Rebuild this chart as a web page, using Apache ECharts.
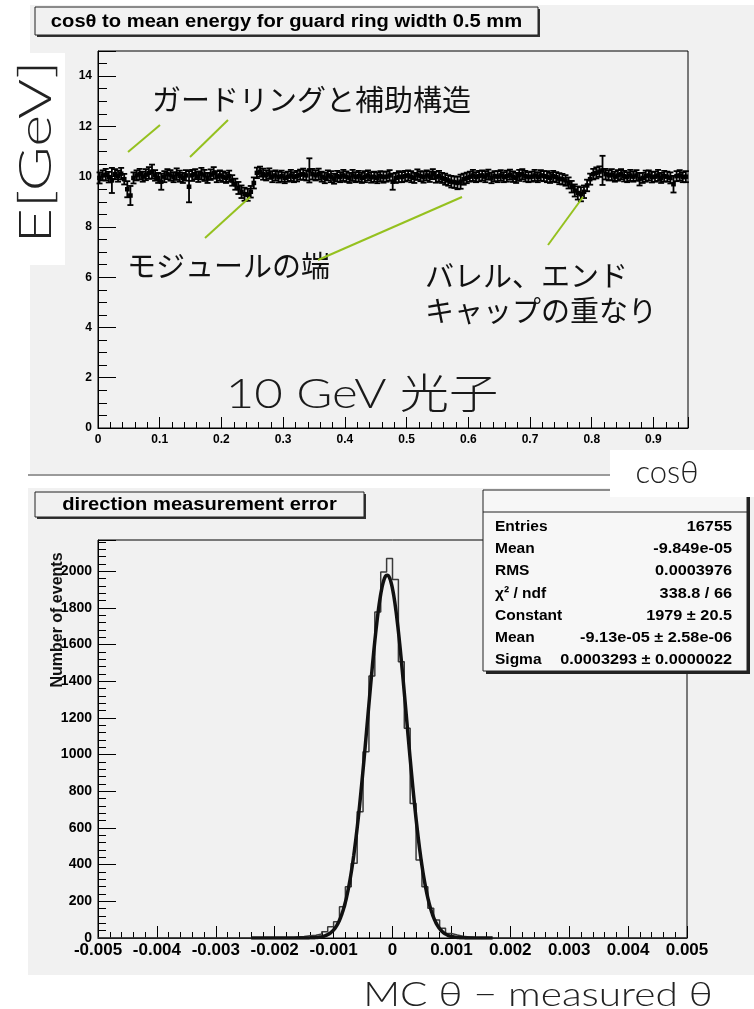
<!DOCTYPE html>
<html>
<head>
<meta charset="utf-8">
<script src="https://cdn.jsdelivr.net/npm/echarts@6/dist/echarts.min.js"></script>
<style>
  html, body { margin: 0; padding: 0; background: #fff; }
  #c { width: 754px; height: 1009px; }
</style>
</head>
<body>
<div id="c"></div>
<script>
// ---------- upper panel: mean energy per cos(theta) bin ----------
const cosBinWidth = 0.005;
const cosRange = [0, 0.956];
const cosTickLabels = ['0', '0.1', '0.2', '0.3', '0.4', '0.5', '0.6', '0.7', '0.8', '0.9'];
const energyTickLabels = ['0', '2', '4', '6', '8', '10', '12', '14'];
const energyRange = [0, 15];

const meanEnergy = [
  9.95,10.05,10.08,9.98,9.85,10.10,10.02,10.12,9.90,9.50,
  9.25,9.95,10.05,10.10,10.00,10.08,10.15,10.20,10.05,9.95,
  9.80,10.00,10.10,10.05,9.98,10.10,10.02,9.95,10.05,9.60,
  10.05,10.10,10.00,10.12,10.05,9.95,10.08,10.15,10.00,10.05,
  10.00,9.95,10.02,9.85,9.70,9.55,9.40,9.30,9.28,9.40,
  9.75,10.15,10.20,10.10,10.05,10.12,10.00,10.05,9.98,10.02,
  9.95,10.00,10.05,9.98,10.02,10.08,10.10,10.05,10.25,10.10,
  10.05,10.10,10.00,9.95,10.05,10.00,9.92,10.02,9.98,10.05,
  10.00,9.95,10.05,9.98,10.02,9.95,10.00,10.05,9.97,10.00,
  9.95,10.02,9.98,10.00,10.05,9.80,9.95,10.00,9.98,10.02,
  10.05,10.00,9.95,10.08,10.02,9.98,10.05,10.00,10.10,9.98,
  10.02,9.95,9.90,9.85,9.80,9.78,9.75,9.80,9.90,9.95,
  10.00,10.05,9.98,10.02,10.05,10.00,10.08,9.95,10.02,10.00,
  10.05,9.98,10.02,10.08,10.00,9.95,10.05,10.10,10.02,9.98,
  10.00,10.05,9.98,10.05,10.02,10.00,9.95,10.02,9.98,9.92,
  9.90,9.85,9.75,9.60,9.45,9.35,9.30,9.40,9.65,9.90,
  10.10,10.15,10.20,10.25,10.10,10.05,10.08,10.00,10.05,10.10,
  10.02,9.98,10.05,10.00,10.05,9.90,9.95,10.02,10.05,9.98,
  10.00,10.05,9.95,10.02,10.00,9.95,9.70,10.02,10.05,9.98,10.00
];
const energyErr = [
  0.22,0.20,0.23,0.21,0.50,0.20,0.22,0.23,0.21,0.32,
  0.38,0.22,0.20,0.21,0.20,0.22,0.23,0.28,0.21,0.20,
  0.32,0.22,0.20,0.21,0.20,0.23,0.22,0.20,0.21,0.62,
  0.22,0.20,0.21,0.23,0.22,0.20,0.21,0.23,0.22,0.20,
  0.21,0.20,0.22,0.21,0.22,0.24,0.25,0.26,0.24,0.23,
  0.22,0.21,0.20,0.22,0.20,0.21,0.22,0.20,0.21,0.22,
  0.21,0.20,0.22,0.20,0.21,0.20,0.22,0.20,0.48,0.21,
  0.20,0.22,0.20,0.21,0.20,0.22,0.20,0.21,0.20,0.22,
  0.21,0.20,0.22,0.20,0.21,0.20,0.22,0.20,0.21,0.20,
  0.21,0.20,0.22,0.20,0.21,0.32,0.20,0.22,0.20,0.21,
  0.20,0.22,0.20,0.21,0.20,0.22,0.20,0.21,0.20,0.22,
  0.21,0.20,0.22,0.21,0.23,0.23,0.25,0.28,0.22,0.21,
  0.20,0.22,0.20,0.21,0.20,0.22,0.20,0.21,0.20,0.22,
  0.21,0.20,0.22,0.20,0.21,0.20,0.22,0.20,0.21,0.20,
  0.20,0.22,0.20,0.21,0.20,0.22,0.20,0.21,0.20,0.22,
  0.21,0.21,0.22,0.23,0.24,0.26,0.28,0.25,0.23,0.22,
  0.21,0.22,0.21,0.58,0.21,0.20,0.22,0.20,0.21,0.20,
  0.21,0.20,0.22,0.20,0.21,0.25,0.20,0.22,0.20,0.21,
  0.20,0.22,0.20,0.21,0.20,0.22,0.33,0.20,0.21,0.20,0.22
];

// ---------- lower panel: direction measurement error histogram ----------
const dirRange = [-0.005, 0.005];
const dirBinWidth = 0.0001;
const dirTickLabels = ['-0.005', '-0.004', '-0.003', '-0.002', '-0.001', '0', '0.001', '0.002', '0.003', '0.004', '0.005'];
const countTickLabels = ['0', '200', '400', '600', '800', '1000', '1200', '1400', '1600', '1800', '2000'];
const countMax = 2170;
const histFirstEdge = -0.0017;   // left edge of the first filled bin
const histCounts = [
  5, 8, 12, 15, 22, 34, 62, 89, 171, 280,
  407, 688, 1015, 1428, 1778, 1996, 2069, 1955, 1506, 1143,
  734, 425, 280, 162, 98, 53, 25, 16, 9, 6,
  3, 2
];

// Gaussian fit result shown in the stats box
const fitConstant = 1979;
const fitMean = -9.13e-05;
const fitSigma = 0.0003293;
const fitRange = [-0.0024, 0.0017];

const statNames = ['Entries', 'Mean', 'RMS', 'χ² / ndf', 'Constant', 'Mean', 'Sigma'];
const statValues = ['16755', '-9.849e-05', '0.0003976', '338.8 / 66', '1979 ± 20.5', '-9.13e-05 ± 2.58e-06', '0.0003293 ± 0.0000022'];

// ---------- build series data ----------
const profileData = meanEnergy.map((v, i) => [cosRange[0] + (i + 0.5) * cosBinWidth, v, energyErr[i]]);

const nBins = Math.round((dirRange[1] - dirRange[0]) / dirBinWidth);
const histSteps = [];
for (let k = 0; k < nBins; k++) {
  const left = dirRange[0] + k * dirBinWidth;
  const idx = Math.round((left - histFirstEdge) / dirBinWidth);
  const c = (idx >= 0 && idx < histCounts.length) ? histCounts[idx] : 0;
  histSteps.push([left, c]);
}
histSteps.push([dirRange[1], 0]);

const fitCurve = [];
const fitSteps = 200;
for (let k = 0; k <= fitSteps; k++) {
  const x = fitRange[0] + (fitRange[1] - fitRange[0]) * k / fitSteps;
  const z = (x - fitMean) / fitSigma;
  fitCurve.push([x, fitConstant * Math.exp(-0.5 * z * z)]);
}

// ---------- styling helpers ----------
const CANVAS_GRAY = '#f1f1f1';
const GREEN = '#95c11f';
const BOLD = 'Liberation Sans';

function valueAxis(gridIndex, range, interval, labels, fontSize, majorLen, minorLen, minorSplit, margin) {
  return {
    type: 'value',
    gridIndex: gridIndex,
    min: range[0],
    max: range[1],
    interval: interval,
    axisLine: { show: true, onZero: false, lineStyle: { color: '#000', width: 1 } },
    axisTick: { show: true, inside: true, length: majorLen, lineStyle: { color: '#000', width: 1 } },
    minorTick: { show: true, splitNumber: minorSplit, length: minorLen, lineStyle: { color: '#000', width: 1 } },
    splitLine: { show: false },
    axisLabel: {
      show: true,
      showMaxLabel: false,
      margin: margin,
      color: '#000',
      fontFamily: BOLD,
      fontWeight: 'bold',
      fontSize: fontSize,
      formatter: function (v) {
        const i = Math.round((v - range[0]) / interval);
        const s = labels[i];
        return s === undefined ? '' : s;
      }
    }
  };
}

const yBottomAxis = valueAxis(1, [0, countMax], 200, countTickLabels, 14, 18, 8, 5, 6);
const xBottomAxis = valueAxis(1, dirRange, 0.001, dirTickLabels, 17, 12, 6, 5, 4);
xBottomAxis.axisLabel.showMaxLabel = true;

// ---------- decorations (canvas boxes, titles, annotations) ----------
const graphics = [];
// pad backgrounds
graphics.push({ type: 'rect', z: -10, shape: { x: 30, y: 5, width: 724, height: 470 }, style: { fill: CANVAS_GRAY } });
graphics.push({ type: 'line', z: -9, shape: { x1: 28, y1: 475, x2: 610, y2: 475 }, style: { stroke: '#9a9a9a', lineWidth: 2 } });
graphics.push({ type: 'rect', z: -10, shape: { x: 28, y: 488, width: 726, height: 487 }, style: { fill: CANVAS_GRAY } });

// title boxes
function titleBox(x, y, w, h, text) {
  graphics.push({ type: 'rect', z: 40, shape: { x: x + 2, y: y + 2, width: w, height: h }, style: { fill: '#333' } });
  graphics.push({ type: 'rect', z: 41, shape: { x: x, y: y, width: w, height: h }, style: { fill: CANVAS_GRAY, stroke: '#222', lineWidth: 1 } });
  graphics.push({
    type: 'text', z: 42, x: x + w / 2, y: y + h / 2 + 1, scaleX: 1.12,
    style: { text: text, x: 0, y: 0, fill: '#000', font: 'bold 18px "Liberation Sans"',
      align: 'center', verticalAlign: 'middle', textAlign: 'center', textVerticalAlign: 'middle' }
  });
}
titleBox(35, 7, 503, 28, 'cosθ to mean energy for guard ring width 0.5 mm');
titleBox(35, 492, 329, 25, 'direction measurement error');

// stats box
graphics.push({ type: 'rect', z: 50, shape: { x: 486, y: 493, width: 264, height: 181 }, style: { fill: '#222' } });
graphics.push({ type: 'rect', z: 51, shape: { x: 483, y: 490, width: 264, height: 181 }, style: { fill: '#f7f7f7', stroke: '#222', lineWidth: 1 } });
graphics.push({ type: 'line', z: 52, shape: { x1: 483, y1: 512, x2: 747, y2: 512 }, style: { stroke: '#222', lineWidth: 1 } });
statNames.forEach((name, i) => {
  const y = 527 + i * 22.1;
  graphics.push({ type: 'text', z: 53, style: { text: name, x: 495, y: y, fill: '#000', font: 'bold 15.5px "Liberation Sans"',
    align: 'left', verticalAlign: 'middle', textAlign: 'left', textVerticalAlign: 'middle' } });
  graphics.push({ type: 'text', z: 53, x: 732, y: y, scaleX: 1.05, style: { text: statValues[i], x: 0, y: 0, fill: '#000', font: 'bold 15.5px "Liberation Sans"',
    align: 'right', verticalAlign: 'middle', textAlign: 'right', textVerticalAlign: 'middle' } });
});

// white label boxes
graphics.push({ type: 'rect', z: 60, shape: { x: 0, y: 53, width: 65, height: 212 }, style: { fill: '#fff' } });
graphics.push({ type: 'rect', z: 60, shape: { x: 610, y: 450, width: 144, height: 47 }, style: { fill: '#fff' } });

// axis titles
graphics.push({ type: 'text', z: 61, x: 36, y: 152, rotation: Math.PI / 2, scaleX: 1.36,
  style: { text: 'E[GeV]', x: 0, y: 0, fill: '#222', font: '300 45px Lato',
    align: 'center', verticalAlign: 'middle', textAlign: 'center', textVerticalAlign: 'middle' } });
graphics.push({ type: 'text', z: 61, x: 667, y: 473,
  style: { text: 'cosθ', x: 0, y: 0, fill: '#222', font: '300 31px Lato',
    align: 'center', verticalAlign: 'middle', textAlign: 'center', textVerticalAlign: 'middle' } });
graphics.push({ type: 'text', z: 61, x: 538, y: 995, scaleX: 1.23,
  style: { text: 'MC θ − measured θ', x: 0, y: 0, fill: '#222', font: '300 33px Lato',
    align: 'center', verticalAlign: 'middle', textAlign: 'center', textVerticalAlign: 'middle' } });
graphics.push({ type: 'text', z: 61, x: 58, y: 620, rotation: Math.PI / 2,
  style: { text: 'Number of events', x: 0, y: 0, fill: '#111', font: 'bold 16px "Liberation Sans"',
    align: 'center', verticalAlign: 'middle', textAlign: 'center', textVerticalAlign: 'middle' } });

// annotations in the upper panel
const JP = '29px "Noto Sans CJK JP"';
function note(text, x, y) {
  graphics.push({ type: 'text', z: 100, style: { text: text, x: x, y: y, fill: '#111', font: JP,
    align: 'left', verticalAlign: 'middle', textAlign: 'left', textVerticalAlign: 'middle' } });
}
note('ガードリングと補助構造', 152, 100);
note('モジュールの端', 127, 266);
note('バレル、エンド', 425, 276);
note('キャップの重なり', 425, 311);
graphics.push({ type: 'text', z: 100, x: 362, y: 395, scaleX: 1.2,
  style: { text: '10 GeV 光子', x: 0, y: 0, fill: '#1a1a1a', font: '300 41px Lato, "Noto Sans CJK JP"',
    align: 'center', verticalAlign: 'middle', textAlign: 'center', textVerticalAlign: 'middle' } });

function pointer(x1, y1, x2, y2) {
  graphics.push({ type: 'line', z: 100, shape: { x1: x1, y1: y1, x2: x2, y2: y2 }, style: { stroke: GREEN, lineWidth: 2 } });
}
pointer(128, 152, 160, 125);
pointer(190, 157, 228, 120);
pointer(205, 238, 250, 197);
pointer(318, 260, 462, 197);
pointer(548, 245, 583, 197);

// ---------- chart ----------
const chart = echarts.init(document.getElementById('c'), null, { renderer: 'canvas' });
chart.setOption({
  animation: false,
  backgroundColor: '#fff',
  grid: [
    { left: 98, top: 51, width: 590, height: 377, show: true, backgroundColor: CANVAS_GRAY, borderColor: '#000', borderWidth: 1 },
    { left: 98, top: 540, width: 589, height: 398, show: true, backgroundColor: CANVAS_GRAY, borderColor: '#000', borderWidth: 1 }
  ],
  xAxis: [
    valueAxis(0, cosRange, 0.1, cosTickLabels, 12, 11, 6, 5, 6),
    xBottomAxis
  ],
  yAxis: [
    valueAxis(0, energyRange, 2, energyTickLabels, 12, 18, 9, 4, 6),
    yBottomAxis
  ],
  series: [
    {
      type: 'custom',
      xAxisIndex: 0,
      yAxisIndex: 0,
      data: profileData,
      z: 5,
      renderItem: function (params, api) {
        const x = api.value(0), y = api.value(1), e = api.value(2);
        const c = api.coord([x, y]);
        const lo = api.coord([x, y - e]);
        const hi = api.coord([x, y + e]);
        const hw = api.size([cosBinWidth, 0])[0] / 2;
        const cap = 3;
        const st = { stroke: '#000', lineWidth: 1.8 };
        return {
          type: 'group',
          children: [
            { type: 'line', shape: { x1: c[0] - hw - 0.8, y1: c[1], x2: c[0] + hw + 0.8, y2: c[1] }, style: { stroke: '#000', lineWidth: 4.5 } },
            { type: 'line', shape: { x1: c[0], y1: lo[1], x2: c[0], y2: hi[1] }, style: st },
            { type: 'line', shape: { x1: c[0] - cap, y1: lo[1], x2: c[0] + cap, y2: lo[1] }, style: st },
            { type: 'line', shape: { x1: c[0] - cap, y1: hi[1], x2: c[0] + cap, y2: hi[1] }, style: st }
          ]
        };
      }
    },
    {
      type: 'line',
      xAxisIndex: 1,
      yAxisIndex: 1,
      data: histSteps,
      step: 'end',
      symbol: 'none',
      z: 5,
      lineStyle: { color: '#3a3a3a', width: 1.5 }
    },
    {
      type: 'line',
      xAxisIndex: 1,
      yAxisIndex: 1,
      data: fitCurve,
      symbol: 'none',
      smooth: true,
      z: 6,
      lineStyle: { color: '#111', width: 3.5 }
    }
  ],
  graphic: { elements: graphics }
});
</script>
</body>
</html>
